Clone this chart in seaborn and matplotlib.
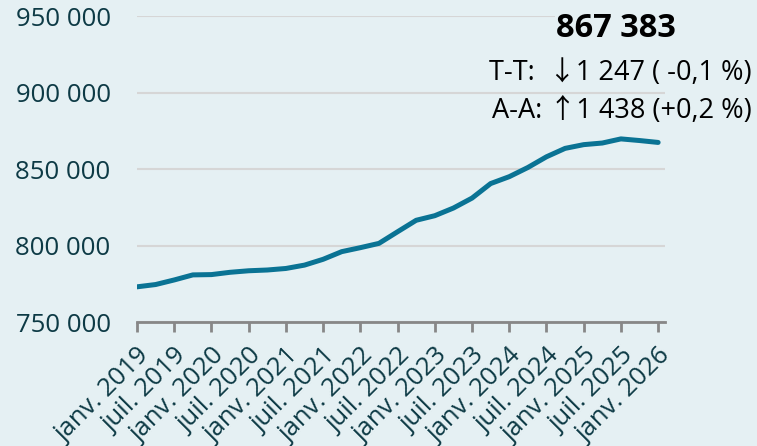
import pandas as pd
import matplotlib.pyplot as plt
import seaborn as sns

# quarterly values, janv. 2019 -> janv. 2026
periods = [
    "janv. 2019", "avr. 2019", "juil. 2019", "oct. 2019",
    "janv. 2020", "avr. 2020", "juil. 2020", "oct. 2020",
    "janv. 2021", "avr. 2021", "juil. 2021", "oct. 2021",
    "janv. 2022", "avr. 2022", "juil. 2022", "oct. 2022",
    "janv. 2023", "avr. 2023", "juil. 2023", "oct. 2023",
    "janv. 2024", "avr. 2024", "juil. 2024", "oct. 2024",
    "janv. 2025", "avr. 2025", "juil. 2025", "oct. 2025",
    "janv. 2026",
]
values = [
    773000, 774500, 777500, 780800,
    781000, 782500, 783500, 784000,
    785000, 787200, 791000, 796000,
    798600, 801400, 809000, 816500,
    819500, 824500, 831000, 840500,
    845000, 851000, 858000, 863500,
    865945, 867000, 869700, 868630,
    867383,
]
last_value = "867 383"
qq_text = "T-T:  \u21931 247 ( -0,1 %)"
yy_text = "A-A: \u21911 438 (+0,2 %)"
y_ticks = [750000, 800000, 850000, 900000, 950000]
y_labels = ["750 000", "800 000", "850 000", "900 000", "950 000"]

df = pd.DataFrame({"idx": range(len(values)), "value": values})

bg = "#e5f0f3"
line_col = "#0a7394"
text_col = "#0d3a45"

sns.set_theme(style="white")
plt.rcParams["font.family"] = ["Open Sans", "Noto Sans CJK SC", "DejaVu Sans"]

fig = plt.figure(figsize=(7.57, 4.46), dpi=100, facecolor=bg)
ax = fig.add_axes([0.181, 0.278, 0.697, 0.686], facecolor=bg)

sns.lineplot(data=df, x="idx", y="value", ax=ax, color=line_col,
             linewidth=3.6, solid_capstyle="round", zorder=3)

ax.set_ylim(750000, 950000)
ax.set_xlim(0, 28.35)
ax.set_yticks(y_ticks)
ax.set_yticklabels(y_labels)
ax.yaxis.grid(True, color="#d6d6d6", linewidth=1.5)
ax.set_axisbelow(True)

ax.set_xticks(df["idx"][::2])
ax.set_xticklabels(periods[::2], rotation=45, ha="right", va="top",
                   rotation_mode="anchor")
ax.set_xlabel("")
ax.set_ylabel("")

for s in ["top", "right", "left"]:
    ax.spines[s].set_visible(False)
ax.spines["bottom"].set_color("#878787")
ax.spines["bottom"].set_linewidth(2)
ax.tick_params(axis="x", bottom=True, length=7, width=2, color="#878787",
               labelsize=18.5, labelcolor=text_col, pad=8)
ax.tick_params(axis="y", left=False, labelsize=18.5, labelcolor=text_col, pad=13)

box = dict(facecolor=bg, edgecolor="none", pad=1)
fig.text(0.814, 0.917, last_value, fontsize=23.5, fontweight="bold",
         color="black", ha="center", va="baseline", bbox=box)
fig.text(0.993, 0.82, qq_text, fontsize=19.5, color="black",
         ha="right", va="baseline", bbox=box)
fig.text(0.993, 0.735, yy_text, fontsize=19.5, color="black",
         ha="right", va="baseline", bbox=box)

plt.savefig("out.png", dpi=100, facecolor=bg)
